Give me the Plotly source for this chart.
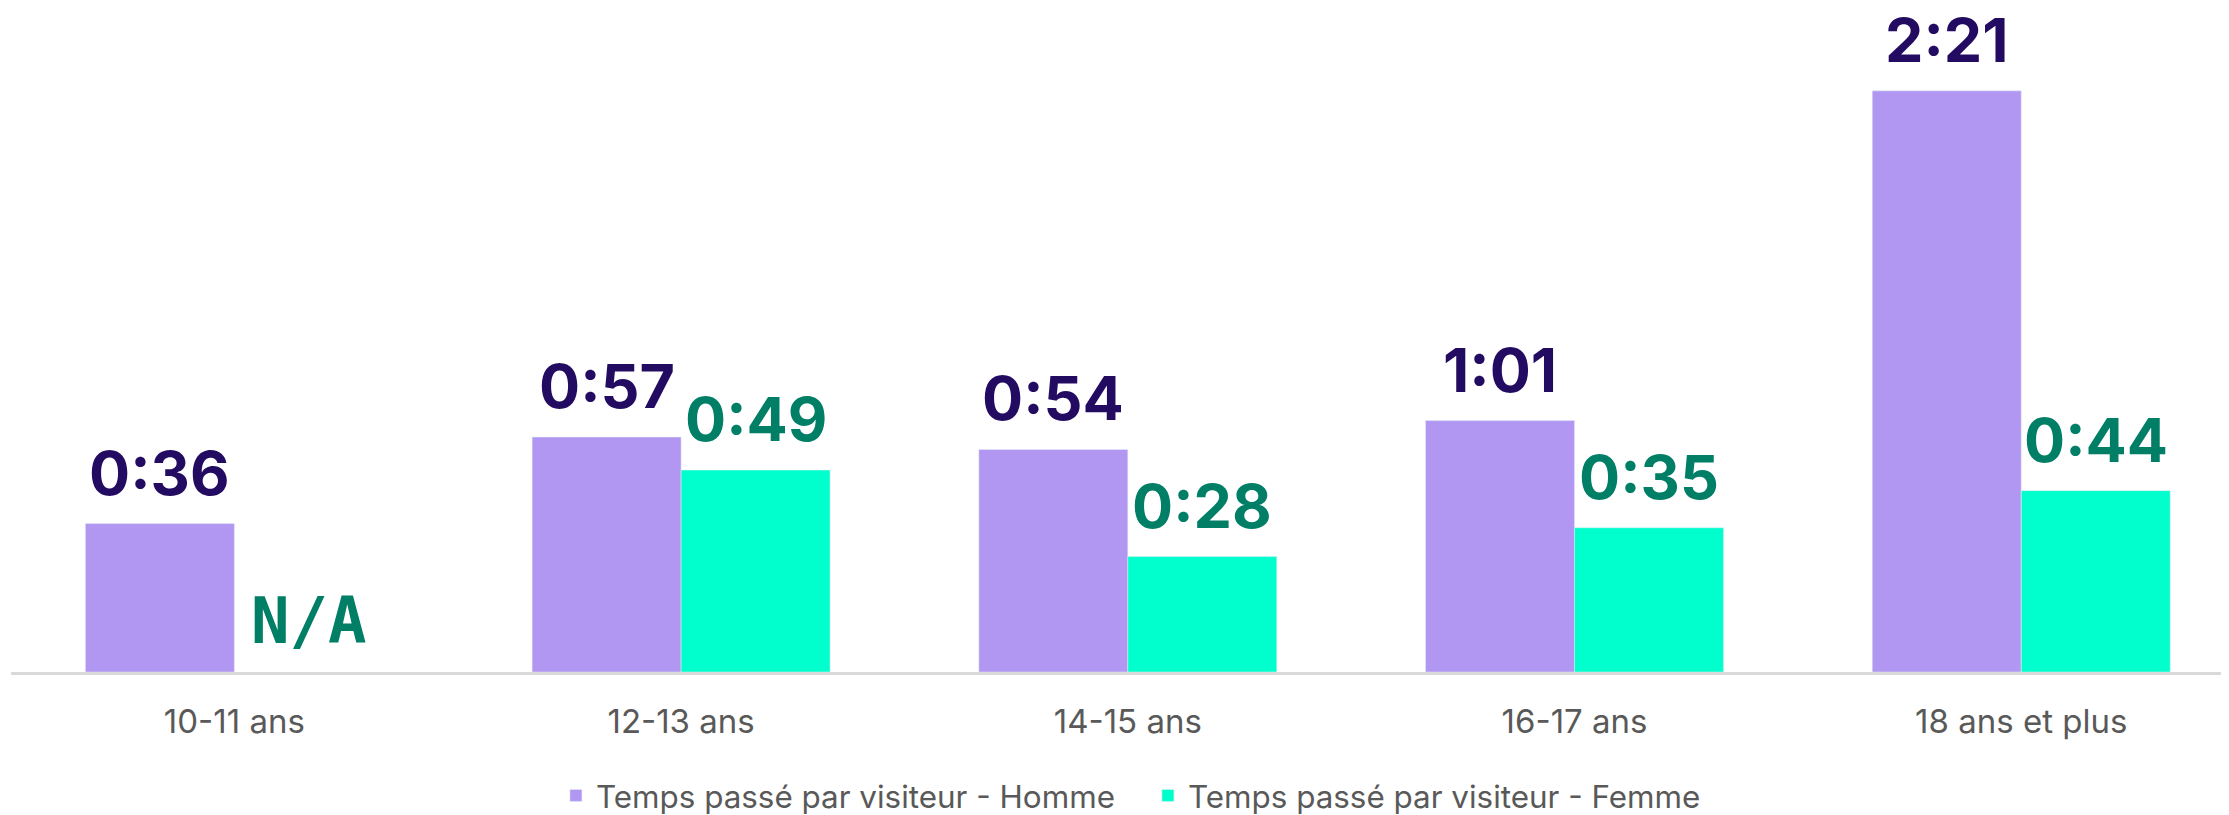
import plotly.graph_objects as go

# durées en secondes
categories = ["10-11 ans", "12-13 ans", "14-15 ans", "16-17 ans", "18 ans et plus"]
homme = [36, 57, 54, 61, 141]
femme = [None, 49, 28, 35, 44]

nom_homme = "Temps passé par visiteur - Homme"
nom_femme = "Temps passé par visiteur - Femme"


def fmt(s):
    if s is None:
        return "N/A"
    return "{}:{:02d}".format(s // 60, s % 60)


fig = go.Figure()
fig.add_trace(go.Bar(x=categories, y=homme, name=nom_homme, marker_color="#B197F2"))
fig.add_trace(go.Bar(x=categories, y=femme, name=nom_femme, marker_color="#00FFCC"))

half = 74.5
for cat, h, f in zip(categories, homme, femme):
    fig.add_annotation(x=cat, y=h, text=fmt(h), showarrow=False, xshift=-half,
                       yanchor="bottom", yshift=12,
                       font=dict(family="Inter", size=61, color="#230B62", weight="bold"))
    if f is None:
        fig.add_annotation(x=cat, y=0, text=fmt(f), showarrow=False,
                           xshift=half, yanchor="bottom", yshift=12,
                           font=dict(family="DejaVu Sans Mono", size=64, color="#007F66",
                                     weight="bold"))
    else:
        fig.add_annotation(x=cat, y=f, text=fmt(f), showarrow=False,
                           xshift=half, yanchor="bottom", yshift=12,
                           font=dict(family="Inter", size=61, color="#007F66", weight="bold"))

fig.update_layout(
    width=2229, height=815,
    margin=dict(l=3, r=0, t=0, b=149),
    plot_bgcolor="white", paper_bgcolor="white",
    barmode="group", bargap=0.333, bargroupgap=0,
    font=dict(family="Inter", color="#595959"),
    legend=dict(orientation="h", x=0.2448, xanchor="left", y=-0.186, yanchor="middle",
                entrywidth=547, font=dict(size=31.4, color="#595959")),
)
fig.update_xaxes(range=[-0.5, 4.483], showline=True, linecolor="#D9D9D9", linewidth=3,
                 tickfont=dict(size=33, color="#595959"), ticklabelstandoff=18,
                 showgrid=False)
fig.update_yaxes(range=[0, 161.1], visible=False, showgrid=False)

fig.write_html("out.html")
